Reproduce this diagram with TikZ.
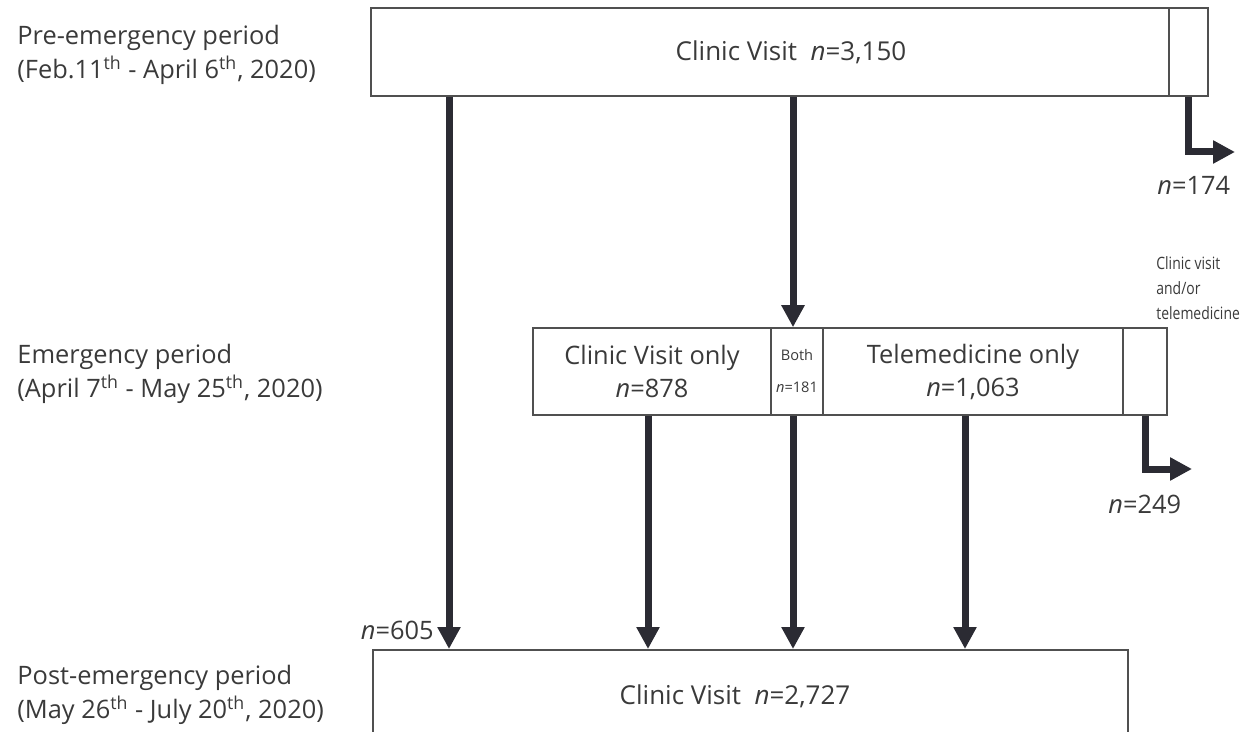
\documentclass[tikz,border=0pt]{standalone}
\usepackage{fontspec}
\setmainfont{Open Sans}[Scale=1]
\newfontfamily\condfont{Open Sans}[FakeStretch=0.82]
\usetikzlibrary{arrows.meta}
\definecolor{txt}{HTML}{3A3A3A}
\definecolor{arrc}{HTML}{2B2B33}
\definecolor{boxc}{HTML}{505050}
\tikzset{
  box/.style={draw=boxc, line width=0.8pt, rectangle, inner sep=0pt, text=txt, align=center, font=\fontsize{12.7}{16.5}\selectfont},
  lbl/.style={text=txt, align=left, anchor=west, inner sep=0pt, font=\fontsize{12.7}{17}\selectfont},
  nlbl/.style={text=txt, inner sep=0pt, font=\fontsize{12.7}{14}\selectfont},
  arr/.style={draw=arrc, line width=3.5pt, -{Triangle[length=11pt,width=11pt]}, line join=miter},
}
\begin{document}
\begin{tikzpicture}[x=0.5pt,y=-0.5pt]
\useasboundingbox (0,0) rectangle (1241,732);
\clip (0,0) rectangle (1241,732);
% left labels
\node[lbl] (l1) at (17,55) {Pre-emergency period\\(Feb.11\textsuperscript{th} - April 6\textsuperscript{th}, 2020)};
\node[lbl] (l2) at (17,374) {Emergency period\\(April 7\textsuperscript{th} - May 25\textsuperscript{th}, 2020)};
\node[lbl] (l3) at (17,695) {Post-emergency period\\(May 26\textsuperscript{th} - July 20\textsuperscript{th}, 2020)};
% top boxes
\node[box, minimum width=399pt, minimum height=44pt] (pre) at (770,52) {};
\node[text=txt, inner sep=0pt, font=\fontsize{13}{16}\selectfont] (pretxt) at (791,52) {Clinic Visit~~\textit{n}=3,150};
\node[box, minimum width=19.5pt, minimum height=44pt] (pres) at (1188.5,52) {};
% emergency boxes
\node[box, minimum width=119pt, minimum height=43.5pt] (cv) at (652,371.5) {Clinic Visit only\\\textit{n}=878};
\node[box, minimum width=26pt, minimum height=43.5pt, font=\fontsize{7.3}{9}\selectfont] (both) at (797,371.5) {Both\\[7pt]\textit{n}=181};
\node[box, minimum width=150pt, minimum height=43.5pt] (tele) at (973,371.5) {Telemedicine only\\\textit{n}=1,063};
\node[box, minimum width=22pt, minimum height=43.5pt] (rest) at (1145,371.5) {};
% bottom box
\node[box, minimum width=377.5pt, minimum height=60pt, anchor=north west] (post) at (372,649) {};
\node[text=txt, inner sep=0pt, font=\fontsize{13}{16}\selectfont] (posttxt) at (735,696) {Clinic Visit~~\textit{n}=2,727};
% side labels
\node[nlbl, anchor=west] (n174) at (1157,185) {\textit{n}=174};
\node[nlbl, anchor=west] (n249) at (1108,504) {\textit{n}=249};
\node[nlbl, anchor=east] (n605) at (434,630) {\textit{n}=605};
\node[text=txt, inner sep=0pt, anchor=south west, align=left, font=\condfont\fontsize{8.5}{12.5}\selectfont] (cvt) at (1156,320) {Clinic visit\\and/or\\telemedicine};
% coordinates for arrows
\coordinate (x1) at (449,0);
\coordinate (x2) at (648,0);
\coordinate (x3) at (793,0);
\coordinate (x4) at (965,0);
\coordinate (e1) at (1235,152);
\coordinate (e2) at (1192,469);
% arrows
\draw[arr] (x1 |- pre.south) -- (x1 |- post.north);
\draw[arr] (x3 |- pre.south) -- (x3 |- both.north);
\draw[arr] (x2 |- cv.south) -- (x2 |- post.north);
\draw[arr] (x3 |- both.south) -- (x3 |- post.north);
\draw[arr] (x4 |- tele.south) -- (x4 |- post.north);
\draw[arr] (pres.south) |- (e1);
\draw[arr] (rest.south) |- (e2);
\end{tikzpicture}
\end{document}
